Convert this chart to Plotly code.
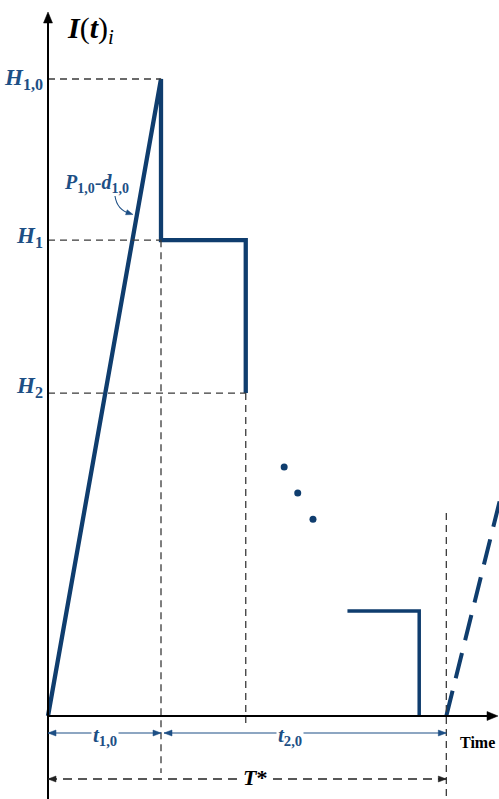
import math
import plotly.graph_objects as go

# Inventory level over one production cycle (arbitrary units)
cycle_t = [0.0, 2.0, 2.0, 3.5, 3.5]
cycle_I = [0.0, 10.0, 7.47, 7.47, 5.07]
last_t = [5.3, 6.57, 6.57]
last_I = [1.65, 1.65, 0.0]
next_t = [7.05, 8.1]
next_I = [0.0, 3.75]
dots_t = [4.18, 4.42, 4.69]
dots_I = [3.91, 3.50, 3.09]

H10, H1, H2 = 10.0, 7.47, 5.07
t10, t_end1, T_star = 2.0, 3.5, 7.05

SX, SY = 56.5, 63.7  # pixels per unit
XR = [-48 / SX, 451 / SX]
YR = [-83 / SY, 716 / SY]

NAVY = "#0f3d6e"
BLUE = "#1d4f85"
GRID = "#3a3a3a"
SERIF = "Liberation Serif, Times New Roman, serif"

fig = go.Figure()


def line(x0, y0, x1, y1, color, width, dash=None):
    ln = dict(color=color, width=width)
    if dash:
        ln["dash"] = dash
    fig.add_shape(type="line", x0=x0, y0=y0, x1=x1, y1=y1, line=ln)


def head(x, y, ux, uy, length, half, color):
    """Filled arrow head with its tip at (x, y); (ux, uy) is the screen direction."""
    n = math.hypot(ux, uy)
    ux, uy = ux / n, uy / n
    px, py = -uy, ux
    pts = []
    for bx, by in [(0, 0), (-length * ux + half * px, -length * uy + half * py),
                   (-length * ux - half * px, -length * uy - half * py)]:
        pts.append((x + bx / SX, y - by / SY))
    path = "M {},{} L {},{} L {},{} Z".format(*[v for p in pts for v in p])
    fig.add_shape(type="path", path=path, fillcolor=color,
                  line=dict(color=color, width=0.5))


# dashed guide lines
guides = [
    (0, H10, t10, H10), (0, H1, t10, H1), (0, H2, t_end1, H2),
    (t10, H1, t10, -57 / SY), (t_end1, H2, t_end1, -7 / SY),
    (T_star, (716 - 513) / SY, T_star, YR[0]),
]
for x0, y0, x1, y1 in guides:
    line(x0, y0, x1, y1, GRID, 1.3, "7px,5px")

fig.add_trace(go.Scatter(x=cycle_t, y=cycle_I, mode="lines",
                         line=dict(color=NAVY, width=4.3), hoverinfo="skip"))
fig.add_trace(go.Scatter(x=last_t, y=last_I, mode="lines",
                         line=dict(color=NAVY, width=3.5), hoverinfo="skip"))
fig.add_trace(go.Scatter(x=next_t, y=next_I, mode="lines",
                         line=dict(color=NAVY, width=4, dash="26px,13px"),
                         hoverinfo="skip"))
fig.add_trace(go.Scatter(x=dots_t, y=dots_I, mode="markers",
                         marker=dict(color=NAVY, size=7), hoverinfo="skip"))

# axes
y_top = (716 - 12) / SY
x_right = (498 - 48) / SX
line(0, YR[0], 0, y_top - 8 / SY, "black", 2)
line(0, 0, x_right - 8 / SX, 0, "black", 2)
head(0, y_top, 0, -1, 11, 4.5, "black")
head(x_right, 0, 1, 0, 11, 4.5, "black")

# dimension arrows
yd1 = -17 / SY
yd2 = -63 / SY
line(0, yd1, t10, yd1, BLUE, 1.2)
line(t10 + 3 / SX, yd1, T_star, yd1, BLUE, 1.2)
head(0, yd1, -1, 0, 8, 3, BLUE)
head(t10, yd1, 1, 0, 8, 3, BLUE)
head(t10 + 3 / SX, yd1, -1, 0, 8, 3, BLUE)
head(T_star, yd1, 1, 0, 8, 3, BLUE)
line(0, yd2, T_star, yd2, "#222", 1.6, "9px,6px")
head(0, yd2, -1, 0, 8, 3, "#222")
head(T_star, yd2, 1, 0, 8, 3, "#222")

# curved pointer to the ramp
p0 = ((115 - 48) / SX, (716 - 196) / SY)
pc = ((117 - 48) / SX, (716 - 210) / SY)
p1 = ((130 - 48) / SX, (716 - 213.5) / SY)
fig.add_shape(type="path",
              path=f"M {p0[0]},{p0[1]} Q {pc[0]},{pc[1]} {p1[0]},{p1[1]}",
              line=dict(color=BLUE, width=1.1))
head((133 - 48) / SX, (716 - 214.5) / SY, 3, 1, 7, 2.6, BLUE)

ann = []


def lab(x, y, text, size, color, xanchor="center", bg=None):
    d = dict(x=x, y=y, xref="x", yref="y", text=text, showarrow=False,
             xanchor=xanchor, yanchor="middle",
             font=dict(family=SERIF, size=size, color=color))
    if bg:
        d["bgcolor"] = bg
    ann.append(d)


lab(-3 / SX, H10, "<b><i>H</i></b><sub><b>1,0</b></sub>", 23, BLUE, "right")
lab(-3 / SX, H1 + 0.05, "<b><i>H</i></b><sub><b>1</b></sub>", 23, BLUE, "right")
lab(-3 / SX, H2 + 0.1, "<b><i>H</i></b><sub><b>2</b></sub>", 23, BLUE, "right")
lab(17 / SX, (716 - 30) / SY, "<b><i>I</i></b>(<b><i>t</i></b>)<sub><i>i</i></sub>",
    30, "black", "left")
lab((96 - 48) / SX, (716 - 183) / SY,
    "<b><i>P</i></b><sub><b>1,0</b></sub>-<b><i>d</i></b><sub><b>1,0</b></sub>",
    20, BLUE)
lab((105 - 48) / SX, yd1 - 0.05, "<b><i>t</i></b><sub><b>1,0</b></sub>", 21,
    BLUE, bg="white")
lab((290 - 48) / SX, yd1 - 0.05, "<b><i>t</i></b><sub><b>2,0</b></sub>", 21,
    BLUE, bg="white")
lab((255 - 48) / SX, yd2 + 0.02, "<b><i>T</i></b><b>*</b>", 22, "black",
    bg="white")
lab((458 - 48) / SX, (716 - 742) / SY, "<b>Time</b>", 16, "black", "left")

fig.update_layout(
    width=499, height=799, margin=dict(l=0, r=0, t=0, b=0),
    paper_bgcolor="white", plot_bgcolor="white", showlegend=False,
    xaxis=dict(range=XR, visible=False, fixedrange=True),
    yaxis=dict(range=YR, visible=False, fixedrange=True),
    annotations=ann,
)
fig.write_html("out.html")
